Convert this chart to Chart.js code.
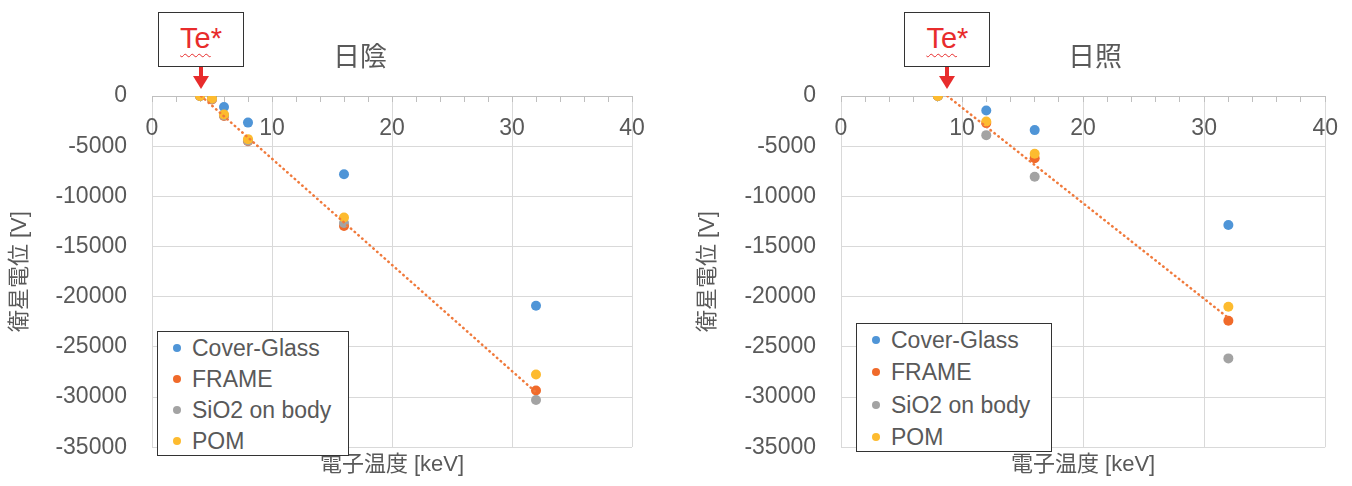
<!DOCTYPE html>
<html>
<head>
<meta charset="utf-8">
<script src="https://cdn.jsdelivr.net/npm/chart.js@4/dist/chart.umd.min.js"></script>
<style>
html, body { margin: 0; padding: 0; background: #fff; overflow: hidden; }
body { width: 1352px; height: 486px; position: relative; font-family: 'Liberation Sans', 'Noto Sans CJK JP', sans-serif; }
canvas { position: absolute; top: 0; }
.title { position: absolute; top: 37px; font-family: 'Noto Sans CJK JP', sans-serif; font-size: 27px; line-height: 36px; color: #595959; transform: translateX(-50%); white-space: nowrap; }
.legend { position: absolute; border: 1.5px solid #333; box-sizing: border-box; background: #fff; color: #595959; font-size: 23px; }
.legend div { position: absolute; left: 34px; white-space: nowrap; transform: translateY(-50%); line-height: 26px; }
.legend i { position: absolute; left: -19px; top: 9px; width: 8px; height: 8px; border-radius: 50%; }
.te { position: absolute; top: 12px; width: 86px; height: 55px; border: 1.5px solid #333; box-sizing: border-box; background: #fff; color: #e82c2c; font-size: 29px; line-height: 50px; text-align: center; }
.te span { text-decoration: underline wavy #e82c2c; text-decoration-thickness: 1px; text-underline-offset: 5px; }
.shaft { position: absolute; top: 67px; width: 4px; height: 10px; background: #e82c2c; }
.head { position: absolute; top: 76px; width: 0; height: 0; border-left: 8px solid transparent; border-right: 8px solid transparent; border-top: 13px solid #e82c2c; }
</style>
</head>
<body>
<canvas id="shade" width="676" height="486" style="left:0"></canvas>
<canvas id="sun" width="676" height="486" style="left:676px"></canvas>
<div class="title" style="left:360px">日陰</div>
<div class="title" style="left:1095px">日照</div>
<script>
const seriesNames = ['Cover-Glass', 'FRAME', 'SiO2 on body', 'POM'];
const seriesColors = ['#4f95d7', '#f06a2a', '#a3a3a3', '#fdbb2f'];

// 日陰
const shadeTemp = [4, 5, 6, 8, 16, 32];
const shadeCoverGlass = [0, -100, -1100, -2650, -7800, -20900];
const shadeFrame = [0, -350, -2000, -4500, -12950, -29350];
const shadeSiO2 = [0, -300, -1950, -4450, -12650, -30300];
const shadePom = [0, -250, -1850, -4300, -12100, -27750];

// 日照
const sunTemp = [8, 12, 16, 32];
const sunCoverGlass = [0, -1450, -3400, -12850];
const sunFrame = [0, -2700, -6200, -22400];
const sunSiO2 = [0, -3900, -8050, -26150];
const sunPom = [0, -2550, -5750, -21000];

const tempRange = [0, 40];
const voltRange = [-35000, 0];

const textColor = '#595959';
const font = { family: "'Liberation Sans', 'Noto Sans CJK JP', sans-serif" };

// least squares line, like the Excel trendline on FRAME
function linearFit(xs, ys) {
    const n = xs.length;
    const mx = xs.reduce((a, b) => a + b, 0) / n;
    const my = ys.reduce((a, b) => a + b, 0) / n;
    let sxy = 0, sxx = 0;
    xs.forEach((x, i) => {
        sxy += (x - mx) * (ys[i] - my);
        sxx += (x - mx) * (x - mx);
    });
    const slope = sxy / sxx;
    return { slope: slope, intercept: my - slope * mx };
}

function addLegend(left, top, width, height, rowStep) {
    const box = document.createElement('div');
    box.className = 'legend';
    Object.assign(box.style, { left: left + 'px', top: top + 'px', width: width + 'px', height: height + 'px' });
    seriesNames.forEach((name, i) => {
        const row = document.createElement('div');
        row.style.top = (16 + i * rowStep) + 'px';
        row.innerHTML = '<i style="background:' + seriesColors[i] + '"></i>' + name;
        box.appendChild(row);
    });
    document.body.appendChild(box);
}

function addTeMark(x) {
    const box = document.createElement('div');
    box.className = 'te';
    box.style.left = (x - 43) + 'px';
    box.innerHTML = '<span>Te</span>*';
    const shaft = document.createElement('div');
    shaft.className = 'shaft';
    shaft.style.left = (x - 2) + 'px';
    const head = document.createElement('div');
    head.className = 'head';
    head.style.left = (x - 8) + 'px';
    document.body.append(box, shaft, head);
}

function makeChart(id, offsetLeft, temps, series, yWidth, padRight, yTitlePad) {
    const fit = linearFit(temps, series[1]);
    const te = -fit.intercept / fit.slope;
    const x0 = Math.max(temps[0], te);
    const x1 = temps[temps.length - 1];

    const datasets = series.map((vals, i) => ({
        label: seriesNames[i],
        data: temps.map((t, j) => ({ x: t, y: vals[j] })),
        backgroundColor: seriesColors[i],
        borderColor: seriesColors[i],
        pointRadius: 5,
        pointHoverRadius: 5,
        pointBorderWidth: 0,
        order: series.length - i,
    }));
    datasets.push({
        label: 'trend',
        data: [{ x: x0, y: fit.intercept + fit.slope * x0 }, { x: x1, y: fit.intercept + fit.slope * x1 }],
        showLine: true,
        pointRadius: 0,
        borderColor: '#f07a3c',
        borderWidth: 2.5,
        borderDash: [0.5, 4.5],
        borderCapStyle: 'round',
        order: 0,
    });

    const chart = new Chart(document.getElementById(id), {
        type: 'scatter',
        data: { datasets: datasets },
        options: {
            responsive: false,
            animation: false,
            layout: { padding: { top: 96, right: padRight, bottom: 0, left: 0 } },
            plugins: { legend: { display: false }, tooltip: { enabled: false } },
            scales: {
                x: {
                    type: 'linear',
                    position: 'bottom',
                    min: tempRange[0],
                    max: tempRange[1],
                    ticks: { display: false, stepSize: 10 },
                    grid: { color: '#d9d9d9', drawTicks: false },
                    border: { display: false },
                    title: {
                        display: true,
                        text: '電子温度 [keV]',
                        color: textColor,
                        font: { ...font, size: 22 },
                        padding: { top: 5, bottom: 0 },
                    },
                },
                xTop: {
                    type: 'linear',
                    axis: 'x',
                    position: { y: 0 },
                    min: tempRange[0],
                    max: tempRange[1],
                    ticks: {
                        stepSize: 2,
                        autoSkip: false,
                        maxRotation: 0,
                        padding: 14,
                        color: textColor,
                        font: { ...font, size: 23 },
                        callback: v => (v % 10 === 0 ? v : ''),
                    },
                    grid: { drawOnChartArea: false, color: '#bfbfbf', tickLength: 5 },
                    border: { color: '#bfbfbf' },
                },
                y: {
                    min: voltRange[0],
                    max: voltRange[1],
                    ticks: {
                        stepSize: 5000,
                        padding: 25,
                        color: textColor,
                        font: { ...font, size: 23 },
                        callback: v => v,
                    },
                    grid: { color: '#d9d9d9', drawTicks: false },
                    border: { display: false },
                    title: {
                        display: true,
                        text: '衛星電位 [V]',
                        color: textColor,
                        font: { ...font, size: 22 },
                        padding: { top: yTitlePad, bottom: 0 },
                    },
                    afterFit: s => { s.width = yWidth; },
                },
            },
        },
    });

    addTeMark(offsetLeft + chart.scales.x.getPixelForValue(te));
    return chart;
}

makeChart('shade', 0, shadeTemp, [shadeCoverGlass, shadeFrame, shadeSiO2, shadePom], 152, 44, 7);
makeChart('sun', 676, sunTemp, [sunCoverGlass, sunFrame, sunSiO2, sunPom], 165, 15, 19);

addLegend(157, 331, 192, 125, 31);
addLegend(856, 323, 196, 129, 32.3);
</script>
</body>
</html>
